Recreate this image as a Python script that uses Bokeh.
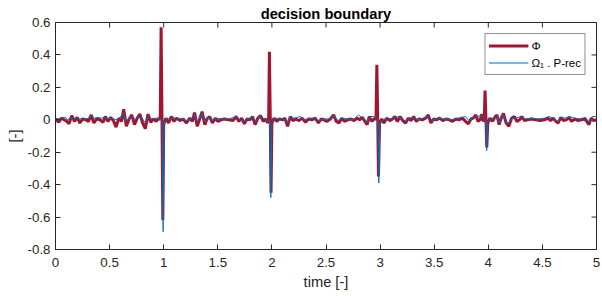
import math
from bokeh.plotting import figure
from bokeh.models import Range1d, FixedTicker, CustomJSTickFormatter
from bokeh.embed import file_html
from bokeh.resources import INLINE

# ---- data ----
phi_t = [0.000, 0.030, 0.055, 0.080, 0.105, 0.125, 0.150, 0.175, 0.200, 0.225,
         0.250, 0.280, 0.305, 0.330, 0.355, 0.380, 0.410, 0.440, 0.460, 0.485,
         0.510, 0.535, 0.560, 0.585, 0.610, 0.630, 0.655, 0.680, 0.705, 0.730,
         0.755, 0.780, 0.805, 0.830, 0.855, 0.880, 0.905, 0.930, 0.955, 0.968,
         0.976, 0.984, 0.992, 1.000, 1.020, 1.045, 1.070, 1.095, 1.120, 1.150,
         1.180, 1.210, 1.240, 1.265, 1.285, 1.310, 1.335, 1.355, 1.380, 1.400,
         1.425, 1.450, 1.475, 1.500, 1.530, 1.560, 1.600, 1.640, 1.670, 1.695,
         1.720, 1.745, 1.770, 1.800, 1.820, 1.845, 1.870, 1.895, 1.920, 1.945,
         1.960, 1.970, 1.977, 1.985, 1.992, 2.000, 2.020, 2.045, 2.070, 2.100,
         2.120, 2.145, 2.170, 2.195, 2.220, 2.250, 2.280, 2.310, 2.340, 2.370,
         2.400, 2.430, 2.455, 2.480, 2.510, 2.540, 2.570, 2.595, 2.620, 2.645,
         2.670, 2.700, 2.730, 2.760, 2.790, 2.810, 2.835, 2.860, 2.880, 2.900,
         2.925, 2.950, 2.962, 2.970, 2.978, 2.985, 2.995, 3.015, 3.035, 3.060,
         3.090, 3.115, 3.135, 3.160, 3.185, 3.210, 3.235, 3.260, 3.285, 3.310,
         3.335, 3.360, 3.390, 3.420, 3.445, 3.470, 3.495, 3.520, 3.550, 3.580,
         3.610, 3.640, 3.670, 3.700, 3.730, 3.760, 3.790, 3.815, 3.840, 3.860,
         3.885, 3.905, 3.925, 3.940, 3.955, 3.963, 3.970, 3.978, 3.986, 3.995,
         4.015, 4.040, 4.060, 4.080, 4.100, 4.120, 4.140, 4.165, 4.190, 4.215,
         4.240, 4.265, 4.290, 4.310, 4.335, 4.360, 4.400, 4.440, 4.480, 4.520,
         4.550, 4.575, 4.600, 4.625, 4.645, 4.670, 4.695, 4.720, 4.745, 4.770,
         4.800, 4.830, 4.860, 4.890, 4.910, 4.930, 4.950, 4.975, 5.000]
phi_v = [0.005, -0.015, 0.010, 0.000, -0.010, -0.025, 0.025, -0.010, 0.015, -0.020,
         0.005, 0.000, -0.010, 0.030, -0.020, 0.005, 0.000, -0.015, 0.020, -0.010,
         0.015, -0.005, -0.045, 0.010, -0.010, 0.065, -0.040, 0.005, 0.030, -0.030,
         0.010, 0.035, -0.020, -0.055, 0.035, -0.015, 0.005, -0.010, 0.010, 0.000,
         0.570, 0.020, -0.620, -0.030, 0.010, -0.020, 0.020, -0.010, 0.010, -0.005,
         0.005, -0.020, 0.010, -0.010, 0.045, -0.040, 0.010, 0.050, -0.030, 0.005,
         0.020, -0.020, 0.010, -0.010, 0.000, 0.005, 0.000, -0.005, 0.020, -0.010,
         0.010, -0.025, 0.005, 0.000, 0.020, -0.030, 0.010, 0.025, -0.010, 0.005,
         -0.020, 0.000, 0.420, 0.010, -0.450, -0.020, 0.010, -0.010, 0.005, 0.000,
         0.010, -0.040, 0.020, -0.005, 0.005, -0.005, 0.010, -0.015, 0.005, 0.000,
         0.010, -0.020, 0.005, 0.000, -0.010, 0.005, 0.030, -0.010, -0.020, 0.010,
         -0.010, 0.000, 0.005, -0.005, 0.010, 0.000, 0.015, -0.010, -0.030, 0.020,
         -0.010, 0.010, 0.000, 0.340, 0.010, -0.350, -0.020, 0.005, -0.020, 0.010,
         -0.005, 0.005, 0.020, -0.010, 0.020, -0.005, -0.020, 0.010, -0.005, 0.020,
         -0.010, 0.005, 0.000, 0.010, 0.030, -0.020, 0.005, 0.000, 0.010, -0.005,
         0.005, 0.000, -0.010, 0.005, 0.000, 0.010, -0.010, -0.025, 0.005, 0.010,
         0.030, -0.010, 0.000, 0.035, -0.010, 0.000, 0.180, 0.010, -0.170, -0.020,
         0.010, -0.010, 0.015, 0.030, -0.030, 0.010, 0.040, -0.020, -0.040, 0.010,
         0.020, -0.010, 0.000, 0.020, -0.005, 0.000, 0.005, 0.000, -0.005, 0.000,
         0.010, -0.005, 0.010, -0.010, -0.020, 0.015, -0.005, 0.000, 0.015, -0.010,
         0.005, -0.005, 0.000, 0.005, -0.010, -0.030, 0.010, -0.005, 0.000]

omega_t = [0.000, 0.030, 0.060, 0.090, 0.115, 0.140, 0.165, 0.190, 0.220, 0.250,
           0.280, 0.310, 0.335, 0.360, 0.390, 0.420, 0.450, 0.480, 0.520, 0.560,
           0.590, 0.625, 0.650, 0.680, 0.710, 0.740, 0.770, 0.800, 0.830, 0.860,
           0.890, 0.930, 0.965, 0.985, 0.995, 1.005, 1.030, 1.060, 1.090, 1.120,
           1.160, 1.210, 1.250, 1.285, 1.310, 1.355, 1.380, 1.420, 1.450, 1.490,
           1.540, 1.600, 1.670, 1.700, 1.740, 1.780, 1.820, 1.850, 1.895, 1.930,
           1.965, 1.980, 1.990, 2.000, 2.030, 2.070, 2.110, 2.145, 2.170, 2.210,
           2.260, 2.300, 2.340, 2.400, 2.430, 2.480, 2.530, 2.570, 2.610, 2.650,
           2.700, 2.760, 2.800, 2.835, 2.880, 2.910, 2.945, 2.970, 2.978, 2.988,
           2.998, 3.030, 3.070, 3.110, 3.140, 3.190, 3.235, 3.270, 3.310, 3.350,
           3.400, 3.445, 3.480, 3.530, 3.600, 3.660, 3.720, 3.790, 3.820, 3.860,
           3.885, 3.940, 3.965, 3.975, 3.985, 3.995, 4.030, 4.060, 4.080, 4.105,
           4.140, 4.180, 4.220, 4.250, 4.300, 4.340, 4.400, 4.460, 4.520, 4.560,
           4.600, 4.640, 4.670, 4.720, 4.750, 4.800, 4.850, 4.900, 4.930, 4.960,
           5.000]
omega_v = [0.010, 0.005, 0.015, 0.015, 0.000, 0.015, 0.000, 0.010, 0.005, 0.010,
           0.005, 0.010, 0.025, 0.010, 0.015, 0.010, 0.015, 0.005, 0.010, 0.000,
           0.010, 0.040, -0.010, 0.010, 0.020, 0.000, 0.020, 0.010, -0.020, 0.020,
           0.005, 0.010, 0.005, 0.000, -0.690, -0.020, 0.010, 0.000, 0.015, 0.005,
           0.010, -0.005, 0.005, 0.030, -0.010, 0.040, -0.010, 0.015, -0.005, 0.010,
           0.005, 0.005, 0.020, 0.000, -0.010, 0.005, 0.020, -0.010, 0.025, 0.005,
           -0.010, 0.000, -0.480, -0.015, 0.010, 0.005, 0.010, -0.020, 0.015, 0.010,
           0.020, 0.000, 0.010, 0.010, -0.005, 0.005, 0.005, 0.025, -0.005, 0.010,
           0.005, 0.005, 0.030, 0.010, -0.015, 0.020, 0.020, 0.005, 0.000, -0.390,
           -0.015, 0.000, 0.010, 0.005, 0.020, 0.015, -0.010, 0.010, 0.015, 0.000,
           0.010, 0.025, -0.005, 0.010, 0.005, 0.000, 0.010, 0.020, -0.005, 0.010,
           0.020, 0.025, 0.005, 0.000, -0.190, -0.010, 0.010, 0.010, 0.025, -0.020,
           0.030, -0.025, 0.010, 0.010, 0.020, 0.005, 0.010, 0.005, 0.010, 0.020,
           0.010, -0.010, 0.015, 0.010, 0.020, 0.010, 0.005, 0.015, -0.015, 0.020,
           0.020]

x_ticks = [0, 0.5, 1, 1.5, 2, 2.5, 3, 3.5, 4, 4.5, 5]
y_ticks = [-0.8, -0.6, -0.4, -0.2, 0, 0.2, 0.4, 0.6]

FONT = "Liberation Sans"
AX = "#262626"

x0, x1 = x_ticks[0], x_ticks[-1]
y0, y1 = y_ticks[0], y_ticks[-1]

p = figure(width=602, height=296, output_backend="svg", toolbar_location=None,
           x_range=Range1d(x0, x1), y_range=Range1d(y0, y1),
           min_border_left=55, min_border_right=6, min_border_top=22,
           min_border_bottom=47, title="decision boundary")
p.background_fill_color = "white"
p.border_fill_color = "white"
p.outline_line_color = AX
p.outline_line_width = 1
p.xgrid.visible = False
p.ygrid.visible = False

p.title.align = "center"
p.title.text_font = FONT
p.title.text_font_size = "14.7px"
p.title.text_font_style = "bold"
p.title.text_color = "#000000"
p.title.standoff = 2
p.title.offset = 0

fmt = CustomJSTickFormatter(code="return tick.toString();")

for ax in (p.xaxis[0], p.yaxis[0]):
    ax.major_label_text_font = FONT
    ax.major_label_text_font_size = "13.3px"
    ax.major_label_text_color = AX
    ax.axis_line_color = AX
    ax.major_tick_line_color = AX
    ax.major_tick_in = 5
    ax.major_tick_out = 0
    ax.minor_tick_line_color = None
    ax.axis_label_text_font = FONT
    ax.axis_label_text_font_size = "14.7px"
    ax.axis_label_text_font_style = "normal"
    ax.axis_label_text_color = AX
    ax.formatter = fmt

p.xaxis[0].ticker = FixedTicker(ticks=x_ticks)
p.yaxis[0].ticker = FixedTicker(ticks=y_ticks)
p.xaxis[0].axis_label = "time [-]"
p.yaxis[0].axis_label = "[-]"
p.xaxis[0].major_label_standoff = 8
p.xaxis[0].axis_label_standoff = 4
p.yaxis[0].major_label_standoff = 5
p.yaxis[0].axis_label_standoff = 2

# inward box ticks on the top and right edges (half of each dash is clipped)
p.scatter(x_ticks, [y1] * len(x_ticks), marker="dash", size=10,
          angle=math.pi / 2, line_color=AX, line_width=1)
p.scatter([x1] * len(y_ticks), y_ticks, marker="dash", size=10,
          line_color=AX, line_width=1)

p.line(phi_t, phi_v, line_color="#A2142F", line_width=3, legend_label="\u03a6")
p.line(omega_t, omega_v, line_color="#0072BD", line_width=1,
       legend_label="\u03a9\u2081 . P-rec")

leg = p.legend[0]
leg.location = "top_right"
leg.margin = 11
leg.padding = 3
leg.spacing = 0
leg.glyph_width = 40
leg.glyph_height = 17
leg.label_height = 17
leg.label_standoff = 3
leg.label_text_font = FONT
leg.label_text_font_size = "11.5px"
leg.label_text_color = "#000000"
leg.border_line_color = AX
leg.border_line_width = 1
leg.background_fill_color = "white"
leg.background_fill_alpha = 1.0

open("out.html", "w").write(file_html(p, INLINE))
